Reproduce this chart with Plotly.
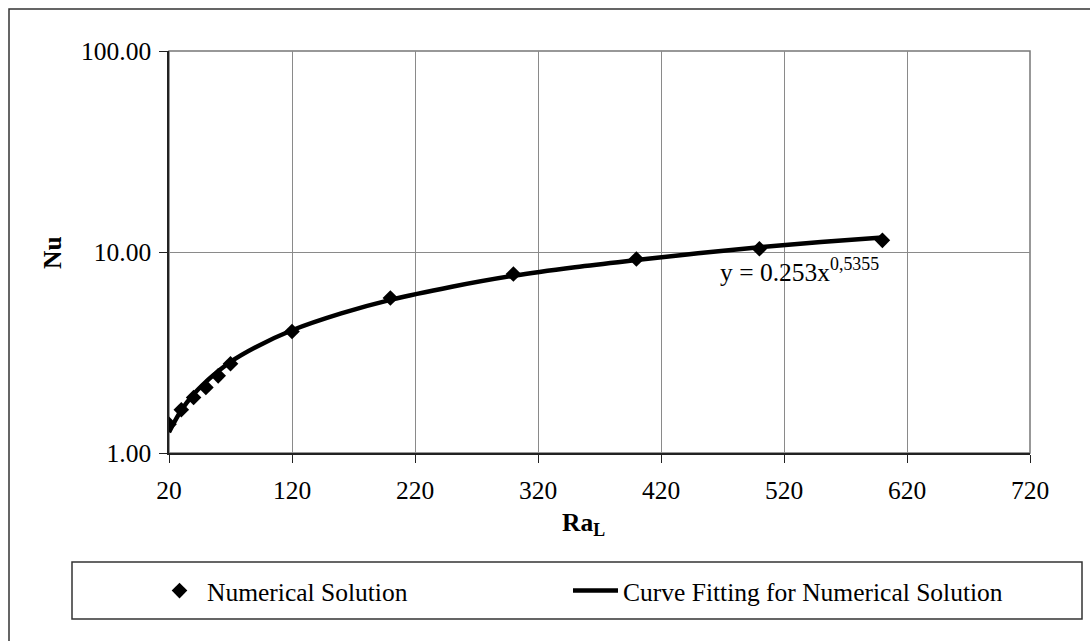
import plotly.graph_objects as go

# Numerical solution: Nusselt number vs Rayleigh number
ra_points = [20, 30, 40, 50, 60, 70, 120, 200, 300, 400, 500, 600]
nu_points = [1.39, 1.64, 1.89, 2.12, 2.42, 2.78, 4.02, 5.90, 7.77, 9.23, 10.38, 11.43]

# Fitted power-law curve through the numerical solution
ra_fit = [20, 30, 40, 50, 60, 70, 90, 120, 160, 200, 250, 300, 350, 400, 450, 500, 550, 600]
nu_fit = [1.27, 1.63, 1.96, 2.26, 2.55, 2.84, 3.35, 4.08, 4.95, 5.78, 6.72, 7.62, 8.40, 9.12, 9.85, 10.55, 11.20, 11.80]

x_ticks = [20, 120, 220, 320, 420, 520, 620, 720]
y_ticks = [1, 10, 100]

FONT = "Liberation Serif"
FS = 25.5
W, H = 1090, 641
L, R, T, B = 169, 60, 51, 188
PW, PH = W - L - R, H - T - B


def px(x):
    return (x - L) / PW


def py(y):
    return (H - B - y) / PH


fig = go.Figure()
fig.add_trace(go.Scatter(
    x=ra_points, y=nu_points, mode="markers", name="Numerical Solution",
    marker=dict(symbol="diamond", size=12, color="black"), legend="legend",
))
fig.add_trace(go.Scatter(
    x=ra_fit, y=nu_fit, mode="lines", name="Curve Fitting for Numerical Solution",
    line=dict(color="black", width=4.5, shape="spline"), legend="legend2",
))

fig.update_xaxes(
    range=[20, 720], tickvals=x_ticks, ticktext=[str(v) for v in x_ticks],
    showgrid=True, gridcolor="#8a8a8a", gridwidth=1,
    showline=True, linecolor="#222", linewidth=1.5,
    ticks="outside", ticklen=8, tickcolor="#222", ticklabelstandoff=6,
    tickfont=dict(family=FONT, size=FS, color="black"), zeroline=False,
)
fig.update_yaxes(
    type="log", range=[0, 2], tickvals=y_ticks, tickformat=".2f",
    showgrid=True, gridcolor="#8a8a8a", gridwidth=1,
    showline=True, linecolor="#222", linewidth=1.5,
    ticks="outside", ticklen=8, tickcolor="#222", ticklabelstandoff=3,
    tickfont=dict(family=FONT, size=FS, color="black"), zeroline=False,
)

shapes = [
    # plot-area frame
    dict(type="rect", xref="paper", yref="paper", x0=0, x1=1, y0=0, y1=1,
         line=dict(color="#777", width=1.5), layer="below"),
    # chart border
    dict(type="rect", xref="paper", yref="paper", x0=px(9), x1=px(1100),
         y0=py(660), y1=py(9), line=dict(color="#333", width=1.5)),
    # legend box
    dict(type="rect", xref="paper", yref="paper", x0=px(72), x1=px(1082),
         y0=py(619), y1=py(562), line=dict(color="#333", width=1.5)),
]

annotations = [
    dict(text="y = 0.253x<sup>0,5355</sup>", xref="paper", yref="paper",
         x=px(799), y=py(270), xanchor="center", yanchor="middle", showarrow=False,
         font=dict(family=FONT, size=FS, color="black")),
    dict(text="<b>Nu</b>", xref="paper", yref="paper", x=px(52), y=py(253),
         xanchor="center", yanchor="middle", textangle=-90, showarrow=False,
         font=dict(family=FONT, size=FS, color="black")),
    dict(text="<b>Ra<sub>L</sub></b>", xref="paper", yref="paper",
         x=px(583), y=py(524), xanchor="center", yanchor="middle", showarrow=False,
         font=dict(family=FONT, size=FS, color="black")),
]

legend_style = dict(
    orientation="h", xanchor="left", yanchor="middle", itemwidth=45,
    font=dict(family=FONT, size=FS, color="black"),
    bgcolor="rgba(0,0,0,0)", borderwidth=0,
)

fig.update_layout(
    width=W, height=H,
    margin=dict(l=L, r=R, t=T, b=B, autoexpand=False),
    paper_bgcolor="white", plot_bgcolor="white",
    showlegend=True,
    legend=dict(x=px(152), y=py(591), **legend_style),
    legend2=dict(x=px(568), y=py(591), **legend_style),
    shapes=shapes, annotations=annotations,
)

fig.write_html("out.html")
